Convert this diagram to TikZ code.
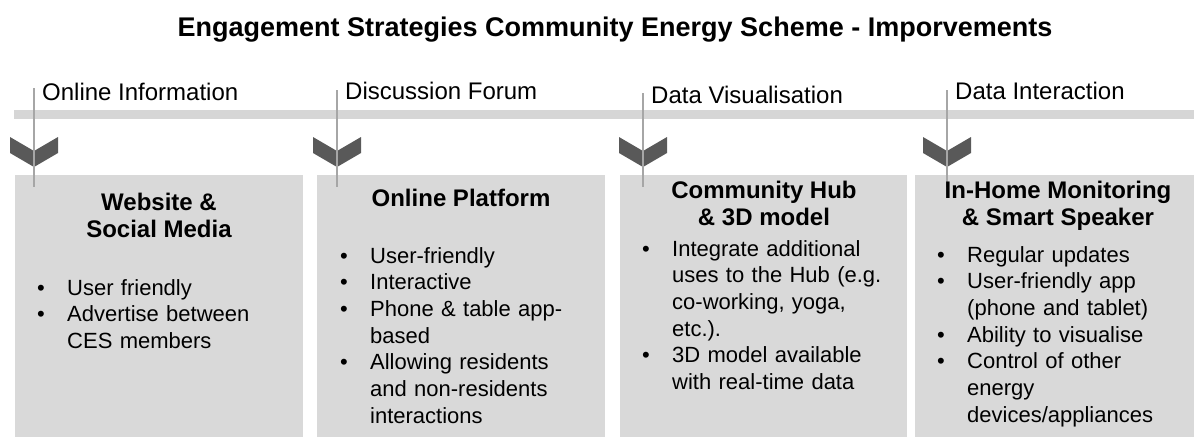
\documentclass[tikz,border=0pt]{standalone}
\usepackage{fontspec}
\setmainfont{Liberation Sans}
\usetikzlibrary{positioning}

\definecolor{boxgray}{HTML}{D9D9D9}
\definecolor{bargray}{HTML}{D6D6D6}
\definecolor{chevgray}{HTML}{595959}
\definecolor{linegray}{HTML}{A6A6A6}

% one bullet point with a hanging indent
\newcommand{\bitem}[1]{\hangindent=30pt\hangafter=1\noindent\makebox[30pt][l]{\textbullet}#1\par}

\begin{document}
\begin{tikzpicture}[
  x=1pt, y=-1pt,
  stepbox/.style={fill=boxgray, inner sep=0pt, anchor=north west, minimum height=262pt},
  stage/.style={anchor=base west, inner sep=0pt, font=\fontsize{24}{28}\selectfont},
  heading/.style={anchor=base, inner sep=0pt, align=center, font=\fontsize{24}{27}\selectfont\bfseries},
  bullets/.style={anchor=base west, inner sep=0pt, text width=250pt, font=\fontsize{22}{26.7}\selectfont},
  chevron/.style={fill=chevgray},
  pointer/.style={draw=linegray, line width=1.5pt}
]
  \useasboundingbox (0,0) rectangle (1194,437);

  \node (title) [anchor=base, inner sep=0pt, font=\fontsize{27}{32}\selectfont\bfseries] at (615,36)
    {Engagement Strategies Community Energy Scheme - Imporvements};

  % timeline bar
  \fill[bargray] (14,110) rectangle (1194,119);

  % the four boxes
  \node[stepbox, minimum width=288pt] (box1) at (15,175) {};
  \node[stepbox, minimum width=288pt] (box2) at (317,175) {};
  \node[stepbox, minimum width=287pt] (box3) at (620,175) {};
  \node[stepbox, minimum width=286pt] (box4) at (915,175) {};

  % chevrons and pointers
  \foreach \x/\t/\n in {34/88/1, 337/90/2, 643/93/3, 947/90/4} {
    \fill[chevron, shift={(\x,0)}] (-24,137) -- (0,151) -- (24,137) -- (24,153) -- (0,167) -- (-24,153) -- cycle;
    \coordinate (top\n) at (\x,\t);
    \coordinate (foot\n) at (\x,187);
    \draw[pointer] (top\n) -- (foot\n);
  }

  % stage labels
  \node[stage] (stage1) at (42,100) {Online Information};
  \node[stage] (stage2) at (345,99) {Discussion Forum};
  \node[stage] (stage3) at (651,103) {Data Visualisation};
  \node[stage] (stage4) at (955,99) {Data Interaction};

  % box headings (base sits on the last line)
  \node[heading] (head1) at (159,237) {Website \&\\Social Media};
  \node[heading] (head2) at (461,206) {Online Platform};
  \node[heading] (head3) at (764,225) {Community Hub\\\& 3D model};
  \node[heading] (head4) at (1058,225) {In-Home Monitoring\\\& Smart Speaker};

  % box contents
  \node[bullets] (list1) at (37,295) {%
    \bitem{User friendly}%
    \bitem{Advertise between\newline CES members}};
  \node[bullets] (list2) at (340,263) {%
    \bitem{User-friendly}%
    \bitem{Interactive}%
    \bitem{Phone \& table app-\newline based}%
    \bitem{Allowing residents\newline and non-residents\newline interactions}};
  \node[bullets] (list3) at (642,256) {%
    \bitem{Integrate additional\newline uses to the Hub (e.g.\newline co-working, yoga,\newline etc.).}%
    \bitem{3D model available\newline with real-time data}};
  \node[bullets] (list4) at (937,262) {%
    \bitem{Regular updates}%
    \bitem{User-friendly app\newline (phone and tablet)}%
    \bitem{Ability to visualise}%
    \bitem{Control of other\newline energy\newline devices/appliances}};
\end{tikzpicture}
\end{document}
